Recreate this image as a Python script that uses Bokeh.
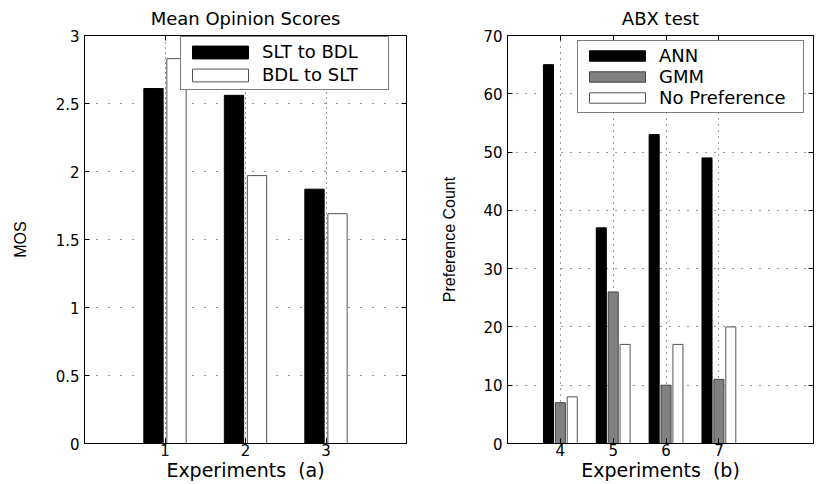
from bokeh.plotting import figure
from bokeh.layouts import row
from bokeh.models import (FixedTicker, LinearAxis, Range1d, Legend, LegendItem,
                          ColumnDataSource, CustomLabelingPolicy)
from bokeh.transform import dodge
from bokeh.embed import file_html
from bokeh.resources import INLINE

# ---------------- data ----------------
mos_experiments = [1, 2, 3]
mos_slt_to_bdl = [2.61, 2.56, 1.87]
mos_bdl_to_slt = [2.83, 1.97, 1.69]
mos_xticks = [1, 2, 3]
mos_yticks = [0, 0.5, 1, 1.5, 2, 2.5, 3]
mos_ytick_labels = ["0", "0.5", "1", "1.5", "2", "2.5", "3"]

abx_experiments = [4, 5, 6, 7]
abx_ann = [65, 37, 53, 49]
abx_gmm = [7, 26, 10, 11]
abx_nopref = [8, 17, 17, 20]
abx_xticks = [4, 5, 6, 7]
abx_yticks = [0, 10, 20, 30, 40, 50, 60, 70]
abx_ytick_labels = ["0", "10", "20", "30", "40", "50", "60", "70"]

FONT = "DejaVu Sans"
YFONT = "Liberation Sans"

NO_LABELS = """
for (let i = 0; i < indices.size; i++) { indices.unset(i) }
return indices
"""


def style(p, xticks, yticks, ylabels, xdash, ydash, tick_standoff, label_standoff):
    p.outline_line_color = "black"
    p.outline_line_width = 1
    p.title.text_font = FONT
    p.title.text_font_size = "18px"
    p.title.text_font_style = "normal"
    p.title.text_color = "black"
    p.title.align = "center"
    p.title.standoff = 6

    xt = FixedTicker(ticks=xticks)
    yt = FixedTicker(ticks=yticks)
    p.xaxis.ticker = xt
    p.yaxis.ticker = yt
    p.xgrid.ticker = xt
    p.ygrid.ticker = yt
    p.yaxis.major_label_overrides = {t: l for t, l in zip(yticks, ylabels)}

    for ax in (p.xaxis[0], p.yaxis[0]):
        ax.axis_line_color = "black"
        ax.major_tick_in = 5
        ax.major_tick_out = 0
        ax.minor_tick_line_color = None
        ax.major_tick_line_color = "black"
        ax.major_label_text_font = FONT
        ax.major_label_text_font_size = "15px"
        ax.major_label_text_color = "black"
        ax.axis_label_text_font_style = "normal"
        ax.axis_label_text_color = "black"
    p.xaxis.axis_label_text_font = FONT
    p.xaxis.axis_label_text_font_size = "19px"
    p.xaxis.major_label_standoff = 0
    p.xaxis.axis_label_standoff = 0
    p.yaxis.axis_label_text_font = YFONT
    p.yaxis.axis_label_text_font_size = "16px"
    p.yaxis.major_label_standoff = tick_standoff
    p.yaxis.axis_label_standoff = label_standoff

    top = LinearAxis(ticker=FixedTicker(ticks=xticks),
                     major_label_policy=CustomLabelingPolicy(code=NO_LABELS),
                     major_label_text_font_size="1px",
                     major_label_standoff=0, major_tick_in=5, major_tick_out=0,
                     minor_tick_line_color=None, axis_line_color="black")
    right = LinearAxis(ticker=FixedTicker(ticks=yticks),
                       major_label_policy=CustomLabelingPolicy(code=NO_LABELS),
                       major_label_text_font_size="1px",
                       major_label_standoff=0, major_tick_in=5, major_tick_out=0,
                       minor_tick_line_color=None, axis_line_color="black")
    p.add_layout(top, "above")
    p.add_layout(right, "right")

    p.xgrid.grid_line_color = "#333333"
    p.xgrid.grid_line_dash = xdash
    p.ygrid.grid_line_color = "#333333"
    p.ygrid.grid_line_dash = ydash
    p.background_fill_color = "white"
    p.border_fill_color = "white"


def style_legend(leg, glyph_h, label_h, spacing, label_w):
    leg.border_line_color = "black"
    leg.border_line_width = 1
    leg.background_fill_alpha = 1
    leg.label_text_font = FONT
    leg.label_text_font_size = "18px"
    leg.label_text_color = "black"
    leg.glyph_width = 70
    leg.glyph_height = glyph_h
    leg.label_height = label_h
    leg.label_width = label_w
    leg.label_standoff = 7
    leg.padding = 4
    leg.spacing = spacing
    leg.margin = 0


H = 484

# ---------------- left chart ----------------
src1 = ColumnDataSource(dict(x=mos_experiments, a=mos_slt_to_bdl, b=mos_bdl_to_slt))
p1 = figure(width=425, height=H, x_range=Range1d(0, 4), y_range=Range1d(0, 3),
            title="Mean Opinion Scores", output_backend="svg", toolbar_location=None,
            min_border_left=84, min_border_right=19, min_border_top=35, min_border_bottom=41)
r1 = p1.vbar(x=dodge("x", -0.143), top="a", width=0.24, bottom=0, source=src1,
             fill_color="black", line_color="black")
r2 = p1.vbar(x=dodge("x", 0.143), top="b", width=0.24, bottom=0, source=src1,
             fill_color="white", line_color="#555555")
p1.xaxis.axis_label = "Experiments\u00a0 (a)"
p1.yaxis.axis_label = "MOS"
style(p1, mos_xticks, mos_yticks, mos_ytick_labels, "1 4", "1 11", 5, 24)

leg1 = Legend(items=[LegendItem(label="SLT to BDL", renderers=[r1]),
                     LegendItem(label="BDL to SLT", renderers=[r2])],
              location=(96, 353))
style_legend(leg1, 16, 20, 2, 122)
p1.add_layout(leg1)

# ---------------- right chart ----------------
src2 = ColumnDataSource(dict(x=abx_experiments, a=abx_ann, g=abx_gmm, n=abx_nopref))
p2 = figure(width=392, height=H, x_range=Range1d(3, 8.79), y_range=Range1d(0, 70),
            title="ABX test", output_backend="svg", toolbar_location=None,
            min_border_left=82, min_border_right=1, min_border_top=35, min_border_bottom=41)
s1 = p2.vbar(x=dodge("x", -0.225), top="a", width=0.19, bottom=0, source=src2,
             fill_color="black", line_color="black")
s2 = p2.vbar(x=dodge("x", 0.0), top="g", width=0.19, bottom=0, source=src2,
             fill_color="#808080", line_color="#444444")
s3 = p2.vbar(x=dodge("x", 0.225), top="n", width=0.19, bottom=0, source=src2,
             fill_color="white", line_color="#555555")
p2.xaxis.axis_label = "Experiments\u00a0 (b)"
p2.yaxis.axis_label = "Preference Count"
style(p2, abx_xticks, abx_yticks, abx_ytick_labels, "1 5", "1 8", 5, 22)

leg2 = Legend(items=[LegendItem(label="ANN", renderers=[s1]),
                     LegendItem(label="GMM", renderers=[s2]),
                     LegendItem(label="No Preference", renderers=[s3])],
              location=(70, 330))
style_legend(leg2, 13, 19, 0, 140)
p2.add_layout(leg2)

layout = row(p1, p2)
open("out.html", "w").write(file_html(layout, INLINE))
